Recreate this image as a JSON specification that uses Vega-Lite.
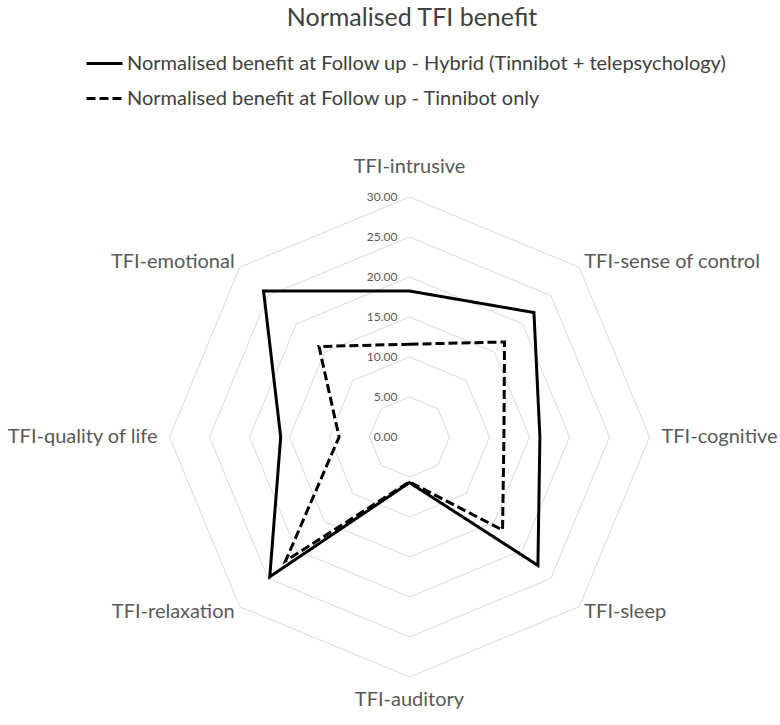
{
  "$schema": "https://vega.github.io/schema/vega-lite/v6.json",
  "width": 780,
  "height": 675,
  "autosize": {"type": "none"},
  "padding": {"top": 50, "left": 0, "right": 0, "bottom": 0},
  "background": "white",
  "title": {"text": "Normalised TFI benefit", "fontSize": 25, "font": "Lato", "fontWeight": "normal", "color": "#404040", "anchor": "middle", "offset": 13, "dx": 22},
  "config": {"view": {"stroke": null}, "font": "Lato"},
  "datasets": {
    "scores": [
      {"dimension": "TFI-intrusive", "series": "Normalised benefit at Follow up - Hybrid (Tinnibot + telepsychology)", "value": 18.25},
      {"dimension": "TFI-sense of control", "series": "Normalised benefit at Follow up - Hybrid (Tinnibot + telepsychology)", "value": 22.0},
      {"dimension": "TFI-cognitive", "series": "Normalised benefit at Follow up - Hybrid (Tinnibot + telepsychology)", "value": 16.3},
      {"dimension": "TFI-sleep", "series": "Normalised benefit at Follow up - Hybrid (Tinnibot + telepsychology)", "value": 22.7},
      {"dimension": "TFI-auditory", "series": "Normalised benefit at Follow up - Hybrid (Tinnibot + telepsychology)", "value": 5.7},
      {"dimension": "TFI-relaxation", "series": "Normalised benefit at Follow up - Hybrid (Tinnibot + telepsychology)", "value": 24.7},
      {"dimension": "TFI-quality of life", "series": "Normalised benefit at Follow up - Hybrid (Tinnibot + telepsychology)", "value": 16.1},
      {"dimension": "TFI-emotional", "series": "Normalised benefit at Follow up - Hybrid (Tinnibot + telepsychology)", "value": 25.8},
      {"dimension": "TFI-intrusive", "series": "Normalised benefit at Follow up - Tinnibot only", "value": 11.6},
      {"dimension": "TFI-sense of control", "series": "Normalised benefit at Follow up - Tinnibot only", "value": 16.8},
      {"dimension": "TFI-cognitive", "series": "Normalised benefit at Follow up - Tinnibot only", "value": 11.8},
      {"dimension": "TFI-sleep", "series": "Normalised benefit at Follow up - Tinnibot only", "value": 16.45},
      {"dimension": "TFI-auditory", "series": "Normalised benefit at Follow up - Tinnibot only", "value": 5.6},
      {"dimension": "TFI-relaxation", "series": "Normalised benefit at Follow up - Tinnibot only", "value": 21.9},
      {"dimension": "TFI-quality of life", "series": "Normalised benefit at Follow up - Tinnibot only", "value": 8.8},
      {"dimension": "TFI-emotional", "series": "Normalised benefit at Follow up - Tinnibot only", "value": 16.0}
    ],
    "levels": [
      {"level": 0}, {"level": 5}, {"level": 10}, {"level": 15}, {"level": 20}, {"level": 25}, {"level": 30}
    ]
  },
  "layer": [
    {
      "data": {"name": "levels"},
      "transform": [
        {"filter": "datum.level > 0"},
        {"calculate": "[0,1,2,3,4,5,6,7]", "as": "k"},
        {"flatten": ["k"]},
        {"calculate": "datum.k * PI / 4", "as": "a"},
        {"calculate": "datum.level * sin(datum.a)", "as": "gx"},
        {"calculate": "datum.level * cos(datum.a)", "as": "gy"}
      ],
      "mark": {"type": "line", "interpolate": "linear-closed", "stroke": "#d9d9d9", "strokeWidth": 1},
      "encoding": {
        "x": {"field": "gx", "type": "quantitative", "scale": {"domain": [-51.1875, 46.3125], "nice": false, "zero": false}, "axis": null},
        "y": {"field": "gy", "type": "quantitative", "scale": {"domain": [-36, 48.375], "nice": false, "zero": false}, "axis": null},
        "detail": {"field": "level", "type": "nominal"},
        "order": {"field": "k", "type": "quantitative"}
      }
    },
    {
      "data": {"name": "levels"},
      "mark": {"type": "text", "align": "right", "baseline": "middle", "dx": -12, "fontSize": 12, "color": "#595959", "font": "Lato"},
      "encoding": {
        "x": {"datum": 0, "type": "quantitative"},
        "y": {"field": "level", "type": "quantitative"},
        "text": {"field": "level", "type": "quantitative", "format": ".2f"}
      }
    },
    {
      "data": {"name": "scores"},
      "transform": [
        {"window": [{"op": "row_number", "as": "rn"}], "groupby": ["series"]},
        {"calculate": "(datum.rn - 1) * PI / 4", "as": "a"},
        {"calculate": "datum.value * sin(datum.a)", "as": "px"},
        {"calculate": "datum.value * cos(datum.a)", "as": "py"}
      ],
      "mark": {"type": "line", "interpolate": "linear-closed", "stroke": "black", "strokeWidth": 3},
      "encoding": {
        "x": {"field": "px", "type": "quantitative"},
        "y": {"field": "py", "type": "quantitative"},
        "order": {"field": "rn", "type": "quantitative"},
        "strokeDash": {
          "field": "series", "type": "nominal",
          "scale": {
            "domain": ["Normalised benefit at Follow up - Hybrid (Tinnibot + telepsychology)", "Normalised benefit at Follow up - Tinnibot only"],
            "range": [[1, 0], [9, 4]]
          },
          "legend": {
            "orient": "none", "legendX": 85, "legendY": -6, "direction": "vertical", "title": null,
            "symbolType": "stroke", "symbolSize": 1296, "symbolStrokeWidth": 3, "symbolStrokeColor": "black",
            "labelFontSize": 20, "labelColor": "#404040", "labelFont": "Lato", "labelLimit": 800, "labelOffset": 3,
            "rowPadding": 5, "padding": 0
          }
        }
      }
    },
    {
      "data": {"name": "scores"},
      "transform": [
        {"filter": "datum.series == 'Normalised benefit at Follow up - Tinnibot only'"},
        {"window": [{"op": "row_number", "as": "rn"}]},
        {"calculate": "datum.rn - 1", "as": "idx"},
        {"calculate": "datum.idx == 0 ? 33.75 : datum.idx == 4 ? 32.9 : (datum.idx == 2 || datum.idx == 6) ? 31.5 : 30.9", "as": "r"},
        {"calculate": "datum.r * sin(datum.idx * PI / 4)", "as": "lx"},
        {"calculate": "datum.r * cos(datum.idx * PI / 4)", "as": "ly"},
        {"calculate": "datum.idx == 0 || datum.idx == 4 ? 'c' : datum.idx < 4 ? 'r' : 'l'", "as": "side"}
      ],
      "layer": [
        {
          "transform": [{"filter": "datum.side == 'r'"}],
          "mark": {"type": "text", "align": "left", "baseline": "middle", "fontSize": 20, "color": "#595959", "font": "Lato"}
        },
        {
          "transform": [{"filter": "datum.side == 'l'"}],
          "mark": {"type": "text", "align": "right", "baseline": "middle", "fontSize": 20, "color": "#595959", "font": "Lato"}
        },
        {
          "transform": [{"filter": "datum.side == 'c'"}],
          "mark": {"type": "text", "align": "center", "baseline": "middle", "fontSize": 20, "color": "#595959", "font": "Lato"}
        }
      ],
      "encoding": {
        "x": {"field": "lx", "type": "quantitative"},
        "y": {"field": "ly", "type": "quantitative"},
        "text": {"field": "dimension", "type": "nominal"}
      }
    }
  ]
}
